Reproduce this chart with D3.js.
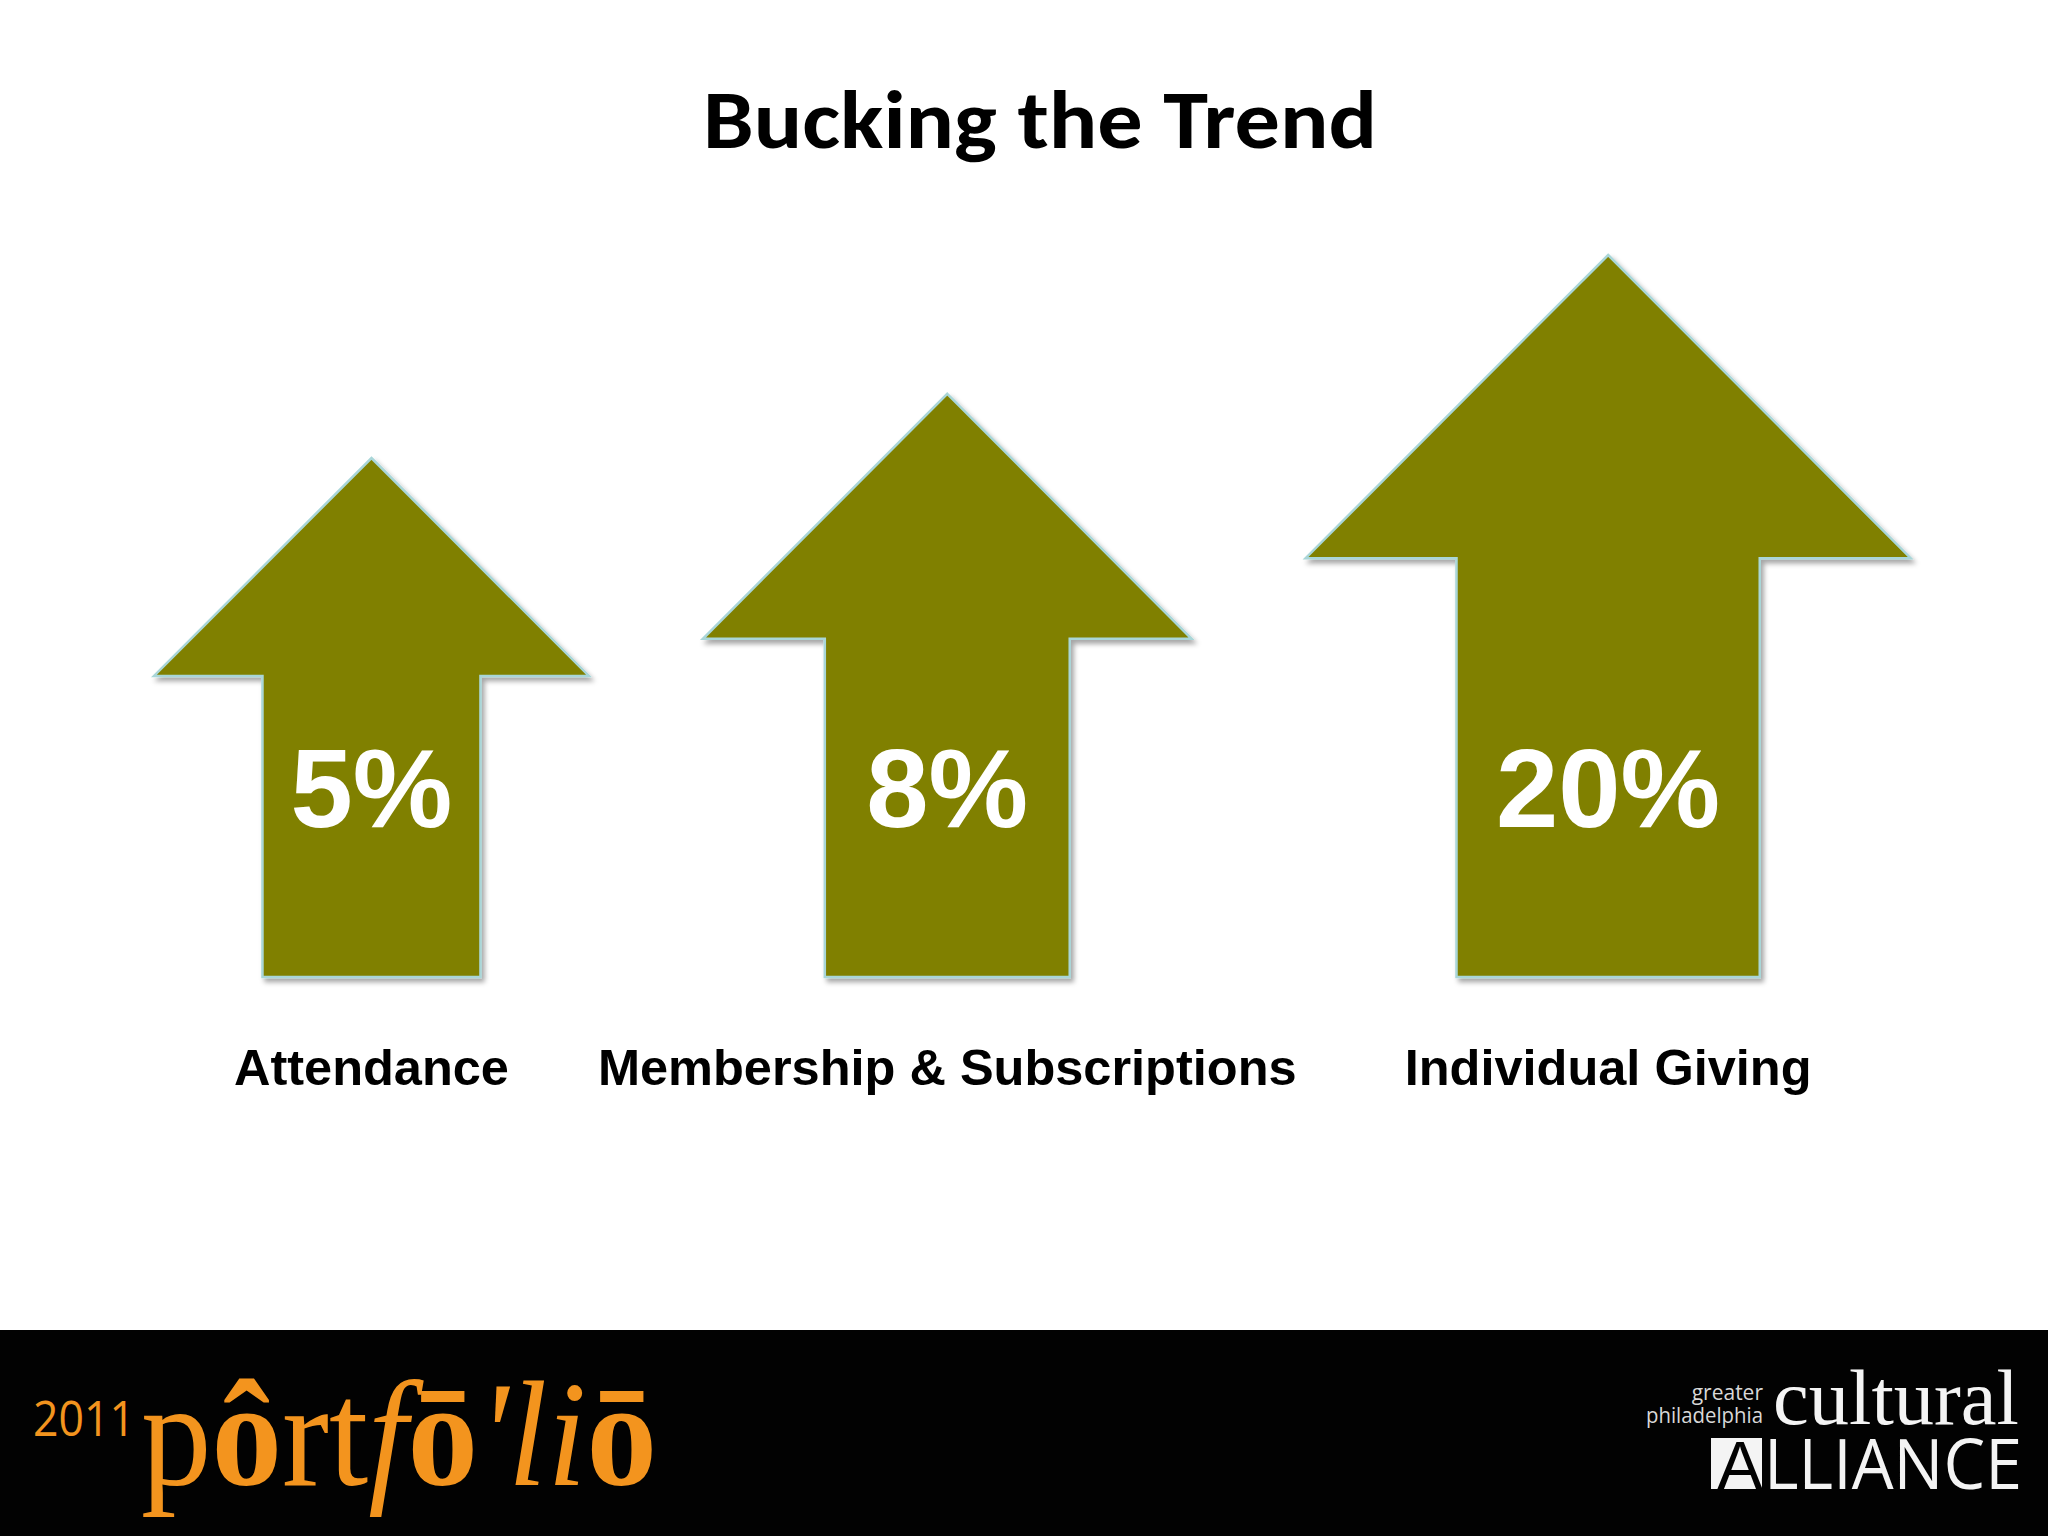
<!DOCTYPE html>
<html><head><meta charset="utf-8">
<script src="https://cdn.jsdelivr.net/npm/d3@7"></script>
<style>html,body{margin:0;padding:0;background:#fff;} svg{display:block}</style>
</head><body>
<script>
// ---- data ----
const title = "Bucking the Trend";
const categories = ["Attendance", "Membership & Subscriptions", "Individual Giving"];
const values = [5, 8, 20];
const valueLabels = ["5%", "8%", "20%"];

// ---- setup ----
const W = 2048, H = 1536;
const svg = d3.select("body").append("svg").attr("width", W).attr("height", H);
svg.append("rect").attr("width", W).attr("height", H).attr("fill", "#ffffff");

const defs = svg.append("defs");
const f = defs.append("filter").attr("id", "sh").attr("x", "-10%").attr("y", "-10%").attr("width", "130%").attr("height", "130%");
f.append("feDropShadow").attr("dx", 3).attr("dy", 4).attr("stdDeviation", 2.5)
  .attr("flood-color", "#000").attr("flood-opacity", 0.35);

// title
svg.append("text").attr("x", 1040).attr("y", 148).attr("text-anchor", "middle")
  .attr("font-family", "Carlito, Calibri, Lato, sans-serif").attr("font-weight", "bold")
  .attr("font-size", 82).attr("textLength", 674).attr("lengthAdjust", "spacingAndGlyphs")
  .attr("fill", "#000").text(title);

// scales
const heightScale = d3.scalePow().exponent(0.15).domain([5, 20]).range([519, 722]);
const baseY = 977;
const headWRatio = 0.838, shaftWRatio = 0.42, headHRatio = 0.42;
const gap = 114, startX = 154;

const data = categories.map((c, i) => ({ cat: c, v: values[i], label: valueLabels[i] }));
let cursor = startX;
data.forEach(d => {
  d.h = heightScale(d.v);
  d.headW = d.h * headWRatio;
  d.cx = cursor + d.headW / 2;
  cursor += d.headW + gap;
});
const x = d3.scaleOrdinal().domain(categories).range(data.map(d => d.cx));
const y = d3.scaleLinear().domain([0, 1]).range([baseY, baseY - 1]);

function arrowPath(d) {
  const cx = x(d.cat), top = y(d.h), yb = y(0);
  const hw = d.headW / 2, sw = d.h * shaftWRatio / 2, hb = top + d.h * headHRatio;
  return d3.line()([
    [cx, top], [cx + hw, hb], [cx + sw, hb], [cx + sw, yb],
    [cx - sw, yb], [cx - sw, hb], [cx - hw, hb]
  ]) + "Z";
}

const g = svg.append("g");
g.selectAll("path.arrow").data(data).join("path").attr("class", "arrow")
  .attr("d", arrowPath).attr("fill", "#808000")
  .attr("stroke", "#a9d6d8").attr("stroke-width", 2.5).attr("stroke-linejoin", "miter")
  .attr("filter", "url(#sh)");

g.selectAll("text.val").data(data).join("text").attr("class", "val")
  .attr("x", d => x(d.cat)).attr("y", 827).attr("text-anchor", "middle")
  .attr("font-family", "Liberation Sans, Arial, sans-serif").attr("font-weight", "bold")
  .attr("font-size", 112).attr("fill", "#ffffff").text(d => d.label);

g.selectAll("text.cat").data(data).join("text").attr("class", "cat")
  .attr("x", d => x(d.cat)).attr("y", 1085).attr("text-anchor", "middle")
  .attr("font-family", "Liberation Sans, Arial, sans-serif").attr("font-weight", "bold")
  .attr("font-size", 50.5).attr("fill", "#000").text(d => d.cat);

// ---- footer ----
svg.append("rect").attr("x", 0).attr("y", 1330).attr("width", W).attr("height", H - 1330).attr("fill", "#020202");

const orange = "#f3941e";
svg.append("text").attr("x", 33).attr("y", 1436)
  .attr("font-family", "Open Sans, sans-serif").attr("font-size", 50)
  .attr("textLength", 102).attr("lengthAdjust", "spacingAndGlyphs")
  .attr("fill", orange).text("2011");

const pf = svg.append("text").attr("x", 141).attr("y", 1485)
  .attr("font-family", "Liberation Serif, DejaVu Serif, serif").attr("font-size", 150)
  .attr("textLength", 516).attr("lengthAdjust", "spacingAndGlyphs")
  .attr("fill", orange);
pf.append("tspan").text("p");
pf.append("tspan").attr("font-weight", "bold").text("ô");
pf.append("tspan").text("rt");
pf.append("tspan").attr("font-style", "italic").text("f");
pf.append("tspan").attr("font-weight", "bold").text("ō");
pf.append("tspan").attr("font-style", "italic").text("'li");
pf.append("tspan").attr("font-weight", "bold").text("ō");

svg.append("text").attr("x", 1763).attr("y", 1400).attr("text-anchor", "end")
  .attr("font-family", "Open Sans, sans-serif").attr("font-size", 21)
  .attr("fill", "#d8d8d8").text("greater");
svg.append("text").attr("x", 1763).attr("y", 1423).attr("text-anchor", "end")
  .attr("font-family", "Open Sans, sans-serif").attr("font-size", 21)
  .attr("textLength", 117).attr("lengthAdjust", "spacingAndGlyphs")
  .attr("fill", "#d8d8d8").text("philadelphia");
svg.append("text").attr("x", 1773).attr("y", 1424)
  .attr("font-family", "Liberation Serif, DejaVu Serif, serif").attr("font-size", 78)
  .attr("textLength", 246).attr("lengthAdjust", "spacingAndGlyphs")
  .attr("fill", "#f4f4f4").text("cultural");
svg.append("rect").attr("x", 1711).attr("y", 1438).attr("width", 51).attr("height", 51).attr("fill", "#f4f4f4");
svg.append("text").attr("x", 1740).attr("y", 1489).attr("text-anchor", "middle")
  .attr("font-family", "Liberation Sans, Arial, sans-serif").attr("font-size", 68)
  .attr("fill", "#020202").text("A");
svg.append("text").attr("x", 1764).attr("y", 1489)
  .attr("font-family", "Open Sans, sans-serif").attr("font-size", 70)
  .attr("textLength", 258).attr("lengthAdjust", "spacingAndGlyphs")
  .attr("fill", "#f4f4f4").text("LLIANCE");
</script>
</body></html>
